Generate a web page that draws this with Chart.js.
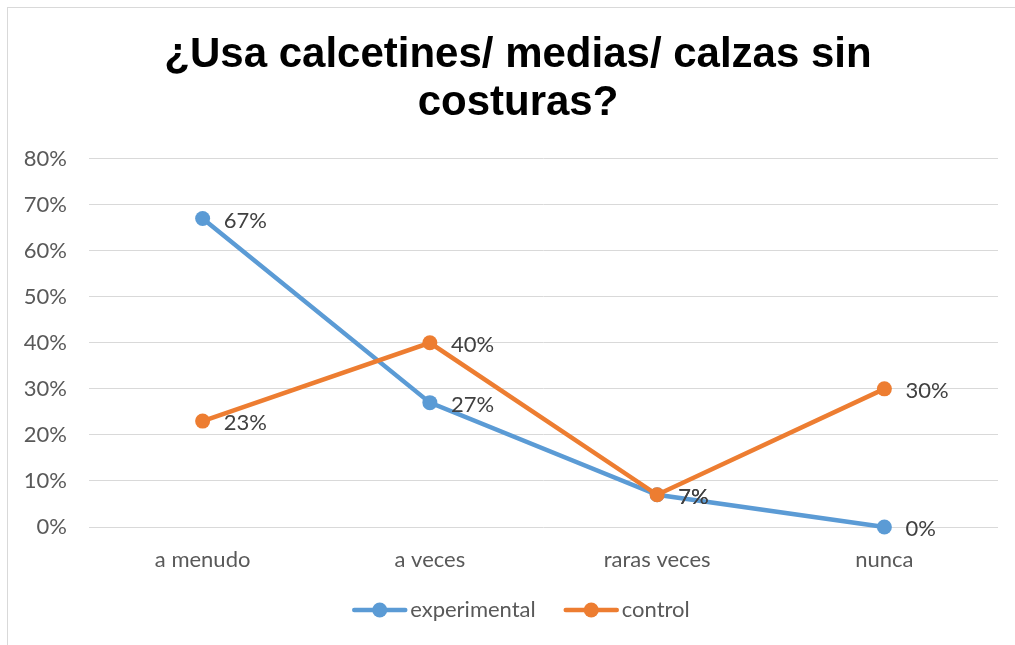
<!DOCTYPE html>
<html>

<head>
    <title>Calcetines sin costuras</title>
    <script src="https://cdn.jsdelivr.net/npm/chart.js"></script>
    <style>
        body { margin: 0; overflow: hidden; background: #fff; }
        .frame { position: absolute; left: 7px; top: 7px; width: 1100px; height: 700px; border: 1px solid #d9d9d9; }
        .signal-chart { position: absolute; left: 0; top: 0; width: 1015px; height: 645px; }
    </style>
</head>

<body>
    <div class="frame"></div>
    <div class="signal-chart">
        <canvas id="chart" width="1015" height="645"></canvas>
    </div>

    <script type="text/javascript">
        const categories = ['a menudo', 'a veces', 'raras veces', 'nunca'];
        const experimental = [67, 27, 7, 0];
        const control = [23, 40, 7, 30];
        const yTicks = [0, 10, 20, 30, 40, 50, 60, 70, 80];

        const BLUE = '#5b9bd5';
        const ORANGE = '#ed7d31';
        const FONT = 'Lato, "Open Sans", sans-serif';
        const TEXT = '#595959';

        // value labels to the right of every point
        const valueLabels = {
            id: 'valueLabels',
            afterDatasetsDraw(chart) {
                const ctx = chart.ctx;
                ctx.save();
                ctx.font = '22px ' + FONT;
                ctx.fillStyle = '#404040';
                ctx.textAlign = 'left';
                ctx.textBaseline = 'middle';
                chart.data.datasets.forEach((ds, i) => {
                    chart.getDatasetMeta(i).data.forEach((pt, j) => {
                        ctx.fillText(ds.data[j] + '%', pt.x + 21, pt.y + 2);
                    });
                });
                ctx.restore();
            }
        };

        // excel style legend: line with a dot, then the name
        const lineLegend = {
            id: 'lineLegend',
            afterLayout(chart) {
                // the excel chart is a bit wider than the window, centre the title like it
                chart.titleBlock.left = 38;
            },
            afterDraw(chart) {
                const ctx = chart.ctx;
                ctx.save();
                ctx.font = '22px ' + FONT;
                ctx.textBaseline = 'middle';
                const items = chart.data.datasets.map(ds => ({ ds, w: 58 + ctx.measureText(ds.label).width }));
                const gap = 28;
                const total = items.reduce((s, it) => s + it.w, 0) + gap * (items.length - 1);
                let x = 521 - total / 2;
                const y = 610;
                items.forEach(it => {
                    const c = it.ds.borderColor;
                    ctx.strokeStyle = c;
                    ctx.lineWidth = 4.5;
                    ctx.lineCap = 'round';
                    ctx.beginPath(); ctx.moveTo(x + 2, y); ctx.lineTo(x + 53, y); ctx.stroke();
                    ctx.fillStyle = c;
                    ctx.beginPath(); ctx.arc(x + 27.5, y, 7.5, 0, Math.PI * 2); ctx.fill();
                    ctx.fillStyle = TEXT;
                    ctx.fillText(it.ds.label, x + 58, y);
                    x += it.w + gap;
                });
                ctx.restore();
            }
        };

        const ctx = document.getElementById('chart');
        let chart = new Chart(ctx, {
            type: 'line',
            data: {
                labels: categories,
                datasets: [{
                        label: 'experimental',
                        data: experimental,
                        borderColor: BLUE,
                        backgroundColor: BLUE,
                        borderWidth: 4.5,
                        pointRadius: 7.5,
                        pointBorderWidth: 0,
                        clip: false,
                        order: 1
                    },
                    {
                        label: 'control',
                        data: control,
                        borderColor: ORANGE,
                        backgroundColor: ORANGE,
                        borderWidth: 4.5,
                        pointRadius: 7.5,
                        pointBorderWidth: 0,
                        clip: false,
                        order: 0
                    },
                ]
            },
            options: {
                responsive: false,
                animation: false,
                layout: { padding: { left: 22, right: 17, top: 0, bottom: 55 } },
                plugins: {
                    title: {
                        display: true,
                        text: ['¿Usa calcetines/ medias/ calzas sin', 'costuras?'],
                        color: '#000',
                        font: { family: '"Liberation Sans", Arial, sans-serif', size: 42, weight: 'bold', lineHeight: 1.15 },
                        padding: { top: 31, bottom: 31 }
                    },
                    legend: { display: false },
                    tooltip: { enabled: false }
                },
                scales: {
                    x: {
                        offset: true,
                        grid: { display: false, drawTicks: false },
                        border: { display: false },
                        ticks: { color: TEXT, font: { family: FONT, size: 22 }, padding: 20 },
                        afterFit(scale) { scale.height = 63; }
                    },
                    y: {
                        min: 0,
                        max: 80,
                        grid: { color: '#d9d9d9', lineWidth: 1, drawTicks: false },
                        border: { display: false },
                        afterBuildTicks(scale) { scale.ticks = yTicks.map(v => ({ value: v })); },
                        ticks: {
                            color: TEXT,
                            font: { family: FONT, size: 22 },
                            padding: 22,
                            callback: v => v + '%'
                        },
                        afterFit(scale) { scale.width = 67; }
                    }
                }
            },
            plugins: [valueLabels, lineLegend]
        })
    </script>
</body>

</html>
